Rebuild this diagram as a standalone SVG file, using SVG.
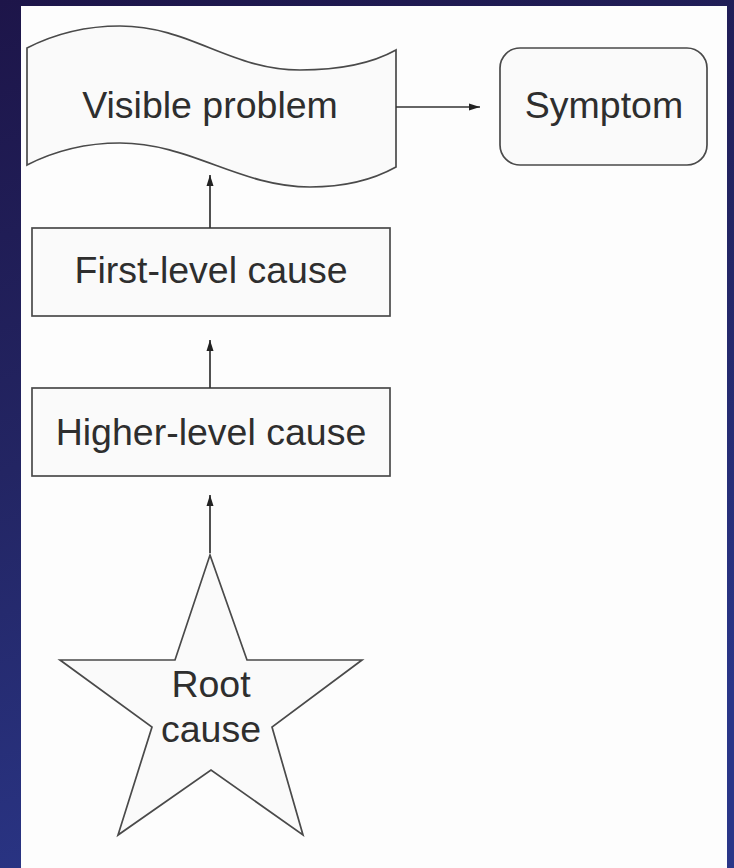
<svg xmlns="http://www.w3.org/2000/svg" width="734" height="868" viewBox="0 0 734 868">
  <defs>
    <linearGradient id="bg" x1="0" y1="0" x2="0.3" y2="1">
      <stop offset="0" stop-color="#1d1549"/>
      <stop offset="0.5" stop-color="#232563"/>
      <stop offset="1" stop-color="#2a3688"/>
    </linearGradient>
    <marker id="arr" viewBox="0 0 10 10" refX="10" refY="5" markerWidth="11" markerHeight="11" markerUnits="userSpaceOnUse" orient="auto">
      <path d="M0,1.8 L10,5 L0,8.2 Z" fill="#222"/>
    </marker>
    <style>
      .shape { fill: #fafafa; stroke: #4a4a4a; stroke-width: 1.7; }
      .lbl { font-family: "Liberation Sans", Arial, sans-serif; font-size: 37.5px; fill: #2e2e2e; text-anchor: middle; }
      .conn { stroke: #333; stroke-width: 1.7; fill: none; marker-end: url(#arr); }
    </style>
  </defs>
  <rect x="0" y="0" width="734" height="868" fill="url(#bg)"/>
  <rect x="21" y="6" width="706" height="862" fill="#fdfdfd"/>

  <g id="visible-problem">
    <path class="shape" d="M27,48 Q70,26 120,26 C190,26 230,70 300,70 Q360,70 396,50 L396,167 Q360,187 310,187 C240,187 190,143 120,143 Q70,143 27,165 Z"/>
    <text class="lbl" x="210" y="118">Visible problem</text>
  </g>

  <g id="symptom">
    <rect class="shape" x="500" y="48" width="207" height="117" rx="20" ry="20"/>
    <text class="lbl" x="604" y="118">Symptom</text>
  </g>

  <g id="first-level-cause">
    <rect class="shape" x="32" y="228" width="358" height="88"/>
    <text class="lbl" x="211" y="283">First-level cause</text>
  </g>

  <g id="higher-level-cause">
    <rect class="shape" x="32" y="388" width="358" height="88"/>
    <text class="lbl" x="211" y="445">Higher-level cause</text>
  </g>

  <g id="root-cause">
    <path class="shape" d="M210,555 L247,660 L362,660 L272,727 L303,835 L211,770 L118,835 L152,727 L60,660 L175,660 Z"/>
    <text class="lbl" x="211" y="697">Root</text>
    <text class="lbl" x="211" y="742">cause</text>
  </g>

  <g id="connectors">
    <line class="conn" x1="396" y1="107" x2="480" y2="107"/>
    <line class="conn" x1="210" y1="228" x2="210" y2="175"/>
    <line class="conn" x1="210" y1="388" x2="210" y2="340"/>
    <line class="conn" x1="210" y1="553" x2="210" y2="495"/>
  </g>
</svg>
